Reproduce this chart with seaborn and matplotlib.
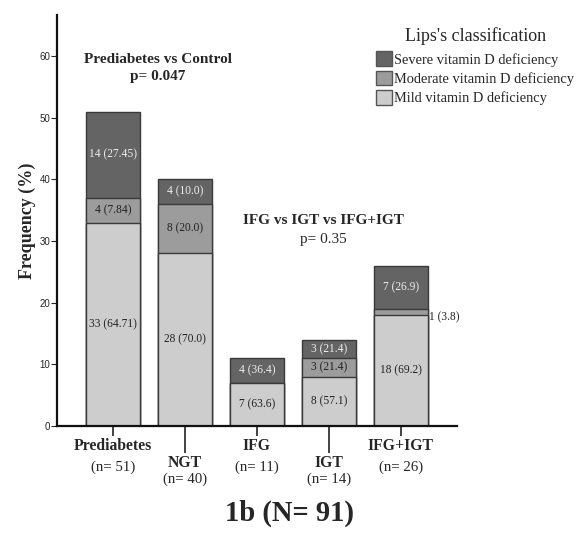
import matplotlib
matplotlib.use('Agg')
import matplotlib.pyplot as plt
import seaborn as sns
import pandas as pd
import numpy as np
from matplotlib.patches import Patch

# dados
grupos = ['Prediabetes', 'NGT', 'IFG', 'IGT', 'IFG+IGT']
n_rotulos = ['(n= 51)', '(n= 40)', '(n= 11)', '(n= 14)', '(n= 26)']
leve = [33, 28, 7, 8, 18]
moderada = [4, 8, 0, 3, 1]
grave = [14, 4, 4, 3, 7]
txt_leve = ['33 (64.71)', '28 (70.0)', '7 (63.6)', '8 (57.1)', '18 (69.2)']
txt_moderada = ['4 (7.84)', '8 (20.0)', '', '3 (21.4)', '1 (3.8)']
txt_grave = ['14 (27.45)', '4 (10.0)', '4 (36.4)', '3 (21.4)', '7 (26.9)']
yticks = [0, 10, 20, 30, 40, 50, 60]

cor_grave = '#646464'
cor_mod = '#9c9c9c'
cor_leve = '#cdcdcd'
borda = '#3a3a3a'

sns.set_style('white')
plt.rcParams['font.family'] = ['Liberation Serif', 'DejaVu Serif']

df = pd.DataFrame({'grupo': grupos, 'leve': leve, 'moderada': moderada, 'grave': grave})
df['lm'] = df['leve'] + df['moderada']
df['total'] = df['lm'] + df['grave']

fig = plt.figure(figsize=(5.76, 5.34), dpi=100)
ax = fig.add_axes([0.099, 0.2022, 0.694, 0.770])

for col, cor in [('total', cor_grave), ('lm', cor_mod), ('leve', cor_leve)]:
    sns.barplot(data=df, x='grupo', y=col, color=cor, edgecolor=borda,
                linewidth=1.0, width=0.75, saturation=1, ax=ax)

ax.set_xlim(-0.78, 4.78)
ax.set_ylim(0, 66.7)
ax.set_yticks(yticks)
ax.set_yticklabels([str(t) for t in yticks], family='Liberation Sans', fontsize=7)
ax.tick_params(axis='y', length=4, width=0.8, direction='out', left=True, pad=1)

# ticks escalonados no eixo x
ax.set_xticks([0, 2, 4])
ax.set_xticks([1, 3], minor=True)
ax.set_xticklabels([])
ax.tick_params(axis='x', which='major', length=7.2, width=1.2, bottom=True, color='#222222')
ax.tick_params(axis='x', which='minor', length=19.4, width=1.2, bottom=True, color='#222222')
ax.set_xlabel('')
ax.set_ylabel('Frequency (%)', fontsize=13, fontweight='bold', labelpad=2)

for s in ['top', 'right']:
    ax.spines[s].set_visible(False)
ax.spines['left'].set_linewidth(1.6)
ax.spines['bottom'].set_linewidth(1.6)
ax.spines['left'].set_color('#111111')
ax.spines['bottom'].set_color('#111111')

trans = ax.get_xaxis_transform()
for i, g in enumerate(grupos):
    if i % 2 == 0:
        y1, y2 = -0.0487, -0.0998
    else:
        y1, y2 = -0.090, -0.129
    ax.text(i, y1, g, transform=trans, ha='center', va='center',
            fontsize=11.3, fontweight='bold')
    ax.text(i, y2, n_rotulos[i], transform=trans, ha='center', va='center',
            fontsize=10.7)

# rótulos dos segmentos
for i in range(len(grupos)):
    ax.text(i, leve[i] / 2, txt_leve[i], ha='center', va='center', fontsize=8.3, color='#222222')
    if moderada[i] >= 2:
        ax.text(i, leve[i] + moderada[i] / 2, txt_moderada[i], ha='center', va='center',
                fontsize=8.3, color='#222222')
    elif moderada[i] > 0:
        ax.text(i + 0.4, leve[i] + moderada[i] / 2 - 0.8, txt_moderada[i], ha='left',
                va='center', fontsize=8.3, color='#222222')
    ax.text(i, leve[i] + moderada[i] + grave[i] / 2, txt_grave[i], ha='center',
            va='center', fontsize=8.3, color='#eeeeee')

ax.text(0.62, 59.5, 'Prediabetes vs Control', ha='center', va='center',
        fontsize=11, fontweight='bold')
ax.text(0.62, 56.7, 'p= 0.047', ha='center', va='center', fontsize=11, fontweight='bold')
ax.text(2.93, 33.3, 'IFG vs IGT vs IFG+IGT', ha='center', va='center',
        fontsize=11, fontweight='bold')
ax.text(2.93, 30.2, 'p= 0.35', ha='center', va='center', fontsize=11)

handles = [Patch(facecolor=cor_grave, edgecolor='#555555', label='Severe vitamin D deficiency'),
           Patch(facecolor=cor_mod, edgecolor='#555555', label='Moderate vitamin D deficiency'),
           Patch(facecolor=cor_leve, edgecolor='#555555', label='Mild vitamin D deficiency')]
leg = fig.legend(handles=handles, title="Lips's classification", loc='upper left',
                 bbox_to_anchor=(0.636, 0.969), frameon=False, fontsize=10.4,
                 title_fontsize=13, handlelength=1.05, handleheight=1.15,
                 handletextpad=0.15, labelspacing=0.3, borderpad=0.2)
leg._legend_box.sep = 5

fig.text(0.503, 0.038, '1b (N= 91)', ha='center', va='center', fontsize=20.6, fontweight='bold')

fig.savefig('out.png', dpi=100)
